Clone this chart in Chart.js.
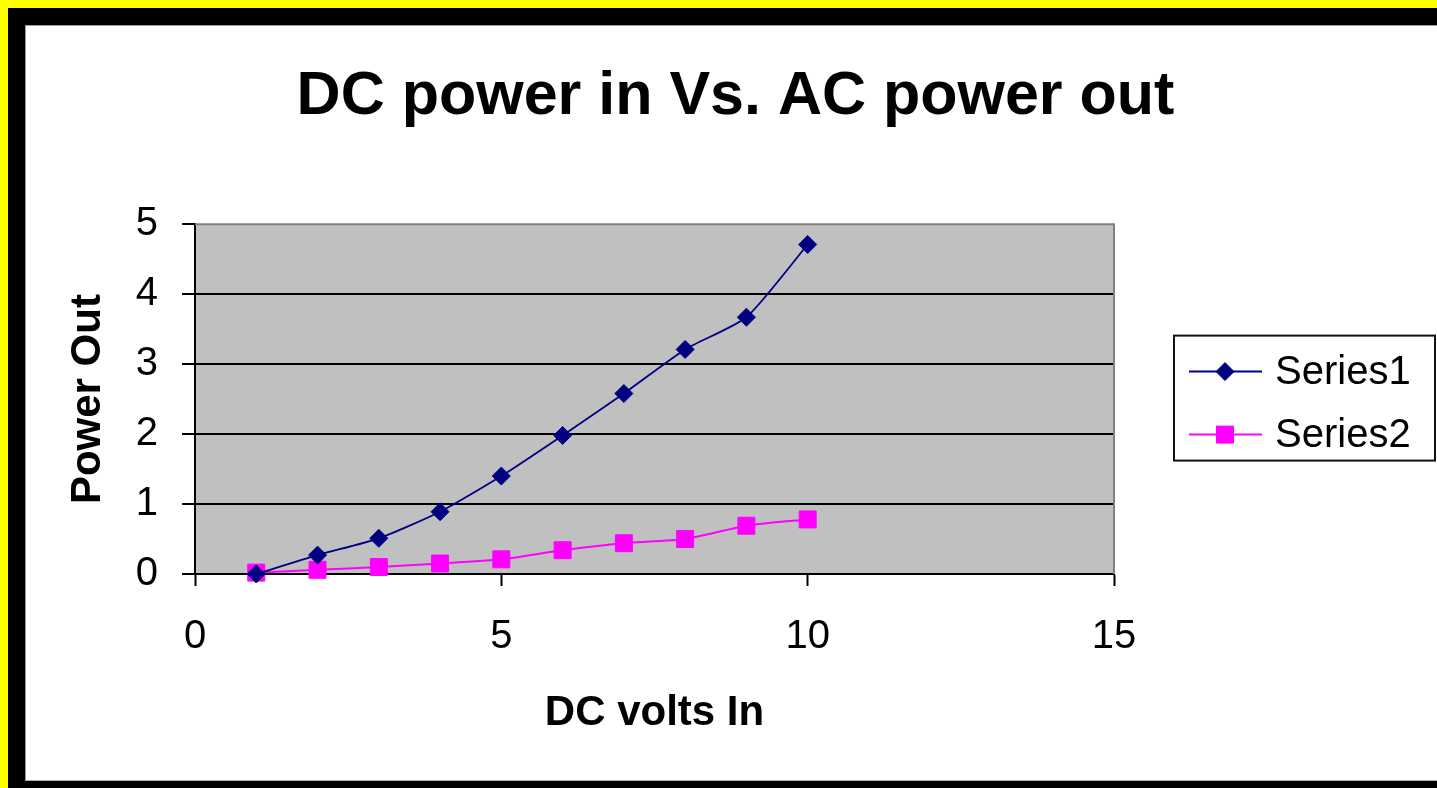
<!DOCTYPE html>
<html>
<head>
<meta charset="utf-8">
<title>DC power in Vs. AC power out</title>
<script src="https://cdn.jsdelivr.net/npm/chart.js@4/dist/chart.umd.min.js"></script>
<style>
  html, body { margin: 0; padding: 0; }
  body { width: 1437px; height: 788px; background: #ffff00; position: relative; overflow: hidden; }
  .frame { position: absolute; left: 8px; top: 8px; right: 0; bottom: 0; background: #000; }
  .sheet { position: absolute; left: 17px; top: 17px; width: 1412px; height: 754px;
           background: #fff; border-left: 1px solid #9a9a9a; border-top: 1px solid #9a9a9a; border-bottom: 1px solid #b0b0b0; }
  canvas { display: block; }
</style>
</head>
<body>
<div class="frame">
  <div class="sheet"><canvas id="chart" width="1411" height="753"></canvas></div>
</div>
<script>
// DC input voltage steps and the measured output power for each series
const volts   = [1, 2, 3, 4, 5, 6, 7, 8, 9, 10];
const series1 = [0, 0.27, 0.51, 0.89, 1.40, 1.98, 2.58, 3.21, 3.67, 4.71];
const series2 = [0.02, 0.06, 0.10, 0.15, 0.21, 0.34, 0.44, 0.50, 0.69, 0.78];

// axis tick values
const xTickValues = [0, 5, 10, 15];
const yTickValues = [0, 1, 2, 3, 4, 5];

const FONT = "'Liberation Sans', Arial, Helvetica, sans-serif";

const toPoints = (xs, ys) => xs.map((x, i) => ({ x: x, y: ys[i] }));

// grey plot-area fill plus the grey top/right frame
const plotArea = {
  id: 'plotArea',
  beforeDraw(chart) {
    const { ctx, chartArea: a } = chart;
    ctx.save();
    ctx.fillStyle = '#c0c0c0';
    ctx.fillRect(a.left, a.top, a.right - a.left, a.bottom - a.top);
    ctx.restore();
  },
  beforeDatasetsDraw(chart) {
    const { ctx, chartArea: a } = chart;
    ctx.save();
    ctx.strokeStyle = '#808080';
    ctx.lineWidth = 2;
    ctx.beginPath();
    ctx.moveTo(a.left, a.top);
    ctx.lineTo(a.right, a.top);
    ctx.lineTo(a.right, a.bottom);
    ctx.stroke();
    ctx.restore();
  }
};

function drawMarker(ctx, style, x, y, r, fill) {
  ctx.fillStyle = fill;
  ctx.strokeStyle = fill;
  ctx.lineWidth = 1;
  ctx.beginPath();
  if (style === 'rectRot') {
    ctx.moveTo(x - r, y);
    ctx.lineTo(x, y - r);
    ctx.lineTo(x + r, y);
    ctx.lineTo(x, y + r);
    ctx.closePath();
  } else {
    const s = Math.SQRT1_2 * r;
    ctx.rect(x - s, y - s, 2 * s, 2 * s);
  }
  ctx.fill();
  ctx.stroke();
}

// boxed legend occupying a right-hand layout column
const sideLegend = {
  id: 'sideLegend',
  beforeInit(chart) {
    const box = {
      position: 'right',
      weight: 0,
      fullSize: false,
      options: {},
      left: 0, top: 0, right: 0, bottom: 0, width: 0, height: 0,
      isHorizontal() { return false; },
      update(maxWidth, maxHeight) {
        this.width = 323;
        this.height = maxHeight;
      },
      draw() {
        const ctx = chart.ctx;
        const fw = 261, fh = 125;
        const fx = this.left + 60;
        const fy = (this.top + this.bottom) / 2 - fh / 2 - 1;
        ctx.save();
        ctx.fillStyle = '#fff';
        ctx.fillRect(fx, fy, fw, fh);
        ctx.strokeStyle = '#111';
        ctx.lineWidth = 2;
        ctx.strokeRect(fx, fy, fw, fh);
        ctx.font = '40px ' + FONT;
        ctx.textBaseline = 'middle';
        ctx.textAlign = 'left';
        chart.data.datasets.forEach((ds, i) => {
          const cy = fy + 36 + i * 63;
          ctx.strokeStyle = ds.borderColor;
          ctx.lineWidth = 2;
          ctx.beginPath();
          ctx.moveTo(fx + 15, cy);
          ctx.lineTo(fx + 88, cy);
          ctx.stroke();
          drawMarker(ctx, ds.pointStyle, fx + 51, cy, ds.pointRadius, ds.pointBackgroundColor);
          ctx.fillStyle = '#000';
          ctx.fillText(ds.label, fx + 101, cy + 1);
        });
        ctx.restore();
      }
    };
    Chart.layouts.addBox(chart, box);
  }
};

new Chart(document.getElementById('chart'), {
  type: 'line',
  data: {
    datasets: [
      {
        label: 'Series1',
        data: toPoints(volts, series1),
        borderColor: '#000080',
        backgroundColor: '#000080',
        pointBackgroundColor: '#000080',
        pointBorderColor: '#000080',
        pointStyle: 'rectRot',
        pointRadius: 9,
        pointBorderWidth: 1,
        borderWidth: 1.8,
        tension: 0.2,
        clip: false
      },
      {
        label: 'Series2',
        data: toPoints(volts, series2),
        borderColor: '#ff00ff',
        backgroundColor: '#ff00ff',
        pointBackgroundColor: '#ff00ff',
        pointBorderColor: '#ff00ff',
        pointStyle: 'rect',
        pointRadius: 12,
        pointBorderWidth: 1,
        borderWidth: 2,
        tension: 0.2,
        clip: false
      }
    ]
  },
  options: {
    responsive: false,
    animation: false,
    devicePixelRatio: 1,
    layout: { padding: { left: 8, right: 0, top: 0, bottom: 20 } },
    plugins: {
      legend: { display: false },
      tooltip: { enabled: false },
      title: {
        display: true,
        text: 'DC power in Vs. AC power out',
        color: '#000',
        font: { family: FONT, size: 61, weight: 'bold', lineHeight: 1.2 },
        padding: { top: 35, bottom: 90 }
      }
    },
    scales: {
      x: {
        type: 'linear',
        min: 0,
        max: 15,
        afterBuildTicks(scale) { scale.ticks = xTickValues.map(v => ({ value: v })); },
        afterFit(scale) { scale.height = 185; },
        border: { display: true, color: '#000', width: 2 },
        grid: { drawOnChartArea: false, drawTicks: true, tickLength: 12, tickWidth: 2, tickColor: '#000' },
        ticks: { color: '#000', padding: 27, maxRotation: 0, font: { family: FONT, size: 40 } },
        title: {
          display: true,
          text: 'DC volts In',
          color: '#000',
          font: { family: FONT, size: 42, weight: 'bold', lineHeight: 1.2 },
          padding: { top: 0, bottom: 20 }
        }
      },
      y: {
        type: 'linear',
        min: 0,
        max: 5,
        afterBuildTicks(scale) { scale.ticks = yTickValues.map(v => ({ value: v })); },
        afterFit(scale) { scale.width = 161; },
        border: { display: true, color: '#000', width: 2 },
        grid: {
          color: (c) => (c.tick && c.tick.value === 5 ? 'rgba(0,0,0,0)' : '#000'),
          lineWidth: 2,
          drawTicks: true,
          tickLength: 13,
          tickWidth: 2,
          tickColor: '#000'
        },
        ticks: { color: '#000', padding: 24, font: { family: FONT, size: 40 } },
        title: {
          display: true,
          text: 'Power Out',
          color: '#000',
          font: { family: FONT, size: 42, weight: 'bold', lineHeight: 1.2 },
          padding: { top: 29, bottom: 0 }
        }
      }
    }
  },
  plugins: [plotArea, sideLegend]
});
</script>
</body>
</html>
